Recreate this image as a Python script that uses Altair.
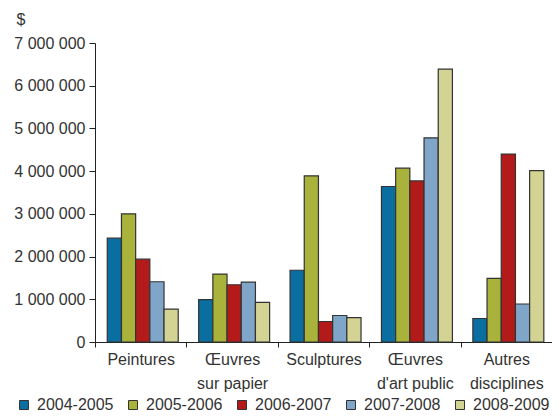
import altair as alt
import pandas as pd

categories = ["Peintures", "Œuvres\nsur papier", "Sculptures", "Œuvres\nd'art public", "Autres\ndisciplines"]
years = ["2004-2005", "2005-2006", "2006-2007", "2007-2008", "2008-2009"]
v2004 = [2430000, 990000, 1680000, 3640000, 550000]
v2005 = [3000000, 1590000, 3890000, 4070000, 1490000]
v2006 = [1940000, 1340000, 480000, 3770000, 4400000]
v2007 = [1410000, 1400000, 620000, 4780000, 890000]
v2008 = [770000, 930000, 570000, 6390000, 4010000]
colors = ["#0a6ea0", "#a9b23a", "#b31b1b", "#7fa6c8", "#d3d494"]
y_ticks = [0, 1000000, 2000000, 3000000, 4000000, 5000000, 6000000, 7000000]

series = [v2004, v2005, v2006, v2007, v2008]
rows = []
for yr, vals in zip(years, series):
    for c, v in zip(categories, vals):
        rows.append({"cat": c, "year": yr, "value": v})
df = pd.DataFrame(rows)

FONT = "Liberation Sans, Arial"
TXT = "#333333"

chart = alt.Chart(df).mark_bar(stroke="#333333", strokeWidth=1.2).encode(
    x=alt.X("cat:N", sort=categories, title=None,
            scale=alt.Scale(paddingInner=0, paddingOuter=0),
            axis=alt.Axis(labelAngle=0,
                          labelExpr="isValid(datum.value) ? split(datum.value, '\\n') : ''",
                          tickBand="extent", tickExtra=True, tickSize=5,
                          labelPadding=4, labelFontSize=16, labelLineHeight=24,
                          labelFont=FONT, labelColor=TXT, domainColor="#222222",
                          tickColor="#222222", labelBaseline="top")),
    xOffset=alt.XOffset("year:N", sort=years,
                        scale=alt.Scale(paddingInner=0, paddingOuter=0.72, align=0.6)),
    y=alt.Y("value:Q", scale=alt.Scale(domain=[0, 7000000], nice=False),
            axis=alt.Axis(values=y_ticks, grid=False, title="$", titleAngle=0,
                          titleAlign="left", titleBaseline="alphabetic",
                          titleX=-79, titleY=-19, titleFontSize=16,
                          titleFontWeight="normal", titleFont=FONT, titleColor=TXT,
                          labelExpr="replace(format(datum.value, ','), regexp(',', 'g'), ' ')",
                          tickSize=6, labelPadding=4, labelFontSize=16,
                          labelFont=FONT, labelColor=TXT, domainColor="#222222",
                          tickColor="#222222")),
    color=alt.Color("year:N", sort=years,
                    scale=alt.Scale(domain=years, range=colors),
                    legend=alt.Legend(title=None, orient="none", legendX=-79, legendY=354,
                                      direction="horizontal", columns=5, columnPadding=11,
                                      symbolType="square", symbolSize=81,
                                      symbolStrokeColor="#333333", symbolStrokeWidth=1,
                                      labelFontSize=16, labelFont=FONT, labelColor=TXT,
                                      labelOffset=5, padding=0)),
).properties(
    width=457, height=299,
    autosize=alt.AutoSizeParams(type="none"),
    padding={"left": 87, "top": 35, "right": 0, "bottom": 70},
).configure_view(stroke=None)

chart.save("out.html", embed_options={"renderer": "svg", "actions": False})
